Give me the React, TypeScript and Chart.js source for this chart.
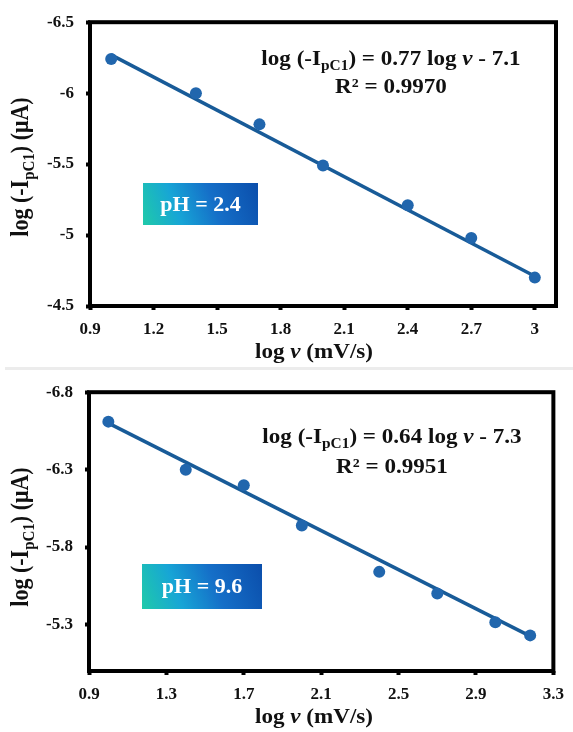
import React, { useEffect, useRef } from 'react';
import { Chart, registerables } from 'chart.js';
Chart.register(...registerables);

// ---------- data ----------
const topLogV = [1.0, 1.4, 1.7, 2.0, 2.4, 2.7, 3.0];
const topLogI = [-6.24, -6.0, -5.78, -5.49, -5.21, -4.98, -4.7];
const topFitLogV = [1.0, 3.0];
const topFitLogI = [-6.27, -4.71];
const topXTicks = [0.9, 1.2, 1.5, 1.8, 2.1, 2.4, 2.7, 3.0];
const topYTicks = [-6.5, -6, -5.5, -5, -4.5];

const botLogV = [1.0, 1.4, 1.7, 2.0, 2.4, 2.7, 3.0, 3.18];
const botLogI = [-6.61, -6.3, -6.2, -5.94, -5.64, -5.5, -5.315, -5.23];
const botFitLogV = [1.0, 3.18];
const botFitLogI = [-6.6, -5.225];
const botXTicks = [0.9, 1.3, 1.7, 2.1, 2.5, 2.9, 3.3];
const botYTicks = [-6.8, -6.3, -5.8, -5.3];

const topSlope = '0.77';
const topIntercept = '7.1';
const topR2 = '0.9970';
const topPH = '2.4';
const botSlope = '0.64';
const botIntercept = '7.3';
const botR2 = '0.9951';
const botPH = '9.6';

// ---------- drawing helpers ----------
const FAMILY = '"Liberation Serif", "Times New Roman", serif';
type Seg = { t: string; sub?: boolean; italic?: boolean };

function segFont(s: Seg, size: number) {
  return `${s.italic ? 'italic ' : ''}bold ${s.sub ? Math.round(size * 0.68) : size}px ${FAMILY}`;
}
function segsWidth(ctx: CanvasRenderingContext2D, segs: Seg[], size: number) {
  let w = 0;
  segs.forEach((s) => {
    ctx.font = segFont(s, size);
    w += ctx.measureText(s.t).width;
  });
  return w;
}
function drawSegs(ctx: CanvasRenderingContext2D, segs: Seg[], size: number, startX: number) {
  let x = startX;
  segs.forEach((s) => {
    ctx.font = segFont(s, size);
    ctx.fillText(s.t, x, s.sub ? size * 0.26 : 0);
    x += ctx.measureText(s.t).width;
  });
}
function drawRich(ctx: CanvasRenderingContext2D, segs: Seg[], cx: number, baseline: number, size: number, color: string, stretch = 1.1) {
  ctx.save();
  ctx.fillStyle = color;
  ctx.textAlign = 'left';
  ctx.textBaseline = 'alphabetic';
  const w = segsWidth(ctx, segs, size);
  ctx.translate(cx, baseline);
  ctx.scale(stretch, 1);
  drawSegs(ctx, segs, size, -w / 2);
  ctx.restore();
}
function drawRotated(ctx: CanvasRenderingContext2D, segs: Seg[], baseX: number, cy: number, size: number, stretch = 1.1) {
  ctx.save();
  ctx.fillStyle = '#111';
  ctx.textAlign = 'left';
  ctx.textBaseline = 'alphabetic';
  const w = segsWidth(ctx, segs, size);
  ctx.translate(baseX, cy);
  ctx.rotate(-Math.PI / 2);
  ctx.scale(1, stretch);
  drawSegs(ctx, segs, size, -w / 2);
  ctx.restore();
}

type Cfg = {
  height: number;
  xs: number[];
  ys: number[];
  fitX: number[];
  fitY: number[];
  xTicks: number[];
  yTicks: number[];
  xMin: number;
  xMax: number;
  yMin: number;
  yMax: number;
  area: { top: number; bottom: number; left: number; right: number };
  slope: string;
  intercept: string;
  r2: string;
  ph: string;
  eqX: number;
  eqY1: number;
  eqY2: number;
  box: { x: number; y: number; w: number; h: number };
  yTitleCy: number;
};

function ChartPanel({ cfg }: { cfg: Cfg }) {
  const ref = useRef<HTMLCanvasElement | null>(null);
  useEffect(() => {
    if (!ref.current) return;
    const c = cfg;
    const overlay = {
      id: 'overlay',
      beforeDatasetsDraw(chart: any) {
        const ctx = chart.ctx as CanvasRenderingContext2D;
        const a = chart.chartArea;
        ctx.save();
        ctx.strokeStyle = '#000';
        ctx.lineWidth = 4;
        ctx.strokeRect(a.left, a.top, a.right - a.left, a.bottom - a.top);
        ctx.restore();
      },
      afterDraw(chart: any) {
        const ctx = chart.ctx as CanvasRenderingContext2D;
        const a = chart.chartArea;
        // equation
        drawRich(
          ctx,
          [
            { t: 'log (-I' },
            { t: 'pC1', sub: true },
            { t: `) = ${c.slope} log ` },
            { t: 'v', italic: true },
            { t: ` - ${c.intercept}` },
          ],
          c.eqX,
          c.eqY1,
          21,
          '#111'
        );
        drawRich(ctx, [{ t: `R\u00B2 = ${c.r2}` }], c.eqX, c.eqY2, 21, '#111');
        // pH box
        const b = c.box;
        const g = ctx.createLinearGradient(b.x, b.y + b.h, b.x + b.w, b.y);
        g.addColorStop(0, '#1fcaa9');
        g.addColorStop(0.3, '#17a5d6');
        g.addColorStop(0.6, '#156fc8');
        g.addColorStop(1, '#0b4eab');
        ctx.save();
        ctx.fillStyle = g;
        ctx.fillRect(b.x, b.y, b.w, b.h);
        ctx.restore();
        drawRich(ctx, [{ t: `pH = ${c.ph}` }], b.x + b.w / 2, b.y + b.h / 2 + 6.5, 20, '#ffffff');
        // x title
        drawRich(
          ctx,
          [{ t: 'log ' }, { t: 'v', italic: true }, { t: ' (mV/s)' }],
          314,
          a.bottom + 52,
          21,
          '#111'
        );
        // y title
        drawRotated(
          ctx,
          [{ t: 'log (-I' }, { t: 'pC1', sub: true }, { t: ') (\u03BCA)' }],
          28,
          c.yTitleCy,
          22
        );
      },
    };
    const chart = new Chart(ref.current, {
      type: 'scatter',
      data: {
        datasets: [
          {
            data: c.xs.map((x, i) => ({ x, y: c.ys[i] })),
            backgroundColor: '#2166ad',
            borderColor: '#2166ad',
            pointRadius: 6,
            pointBorderWidth: 0,
            showLine: false,
          },
          {
            data: c.fitX.map((x, i) => ({ x, y: c.fitY[i] })),
            borderColor: '#185b98',
            backgroundColor: '#185b98',
            borderWidth: 3.5,
            pointRadius: 0,
            showLine: true,
          },
        ],
      },
      options: {
        responsive: false,
        animation: false,
        devicePixelRatio: 1,
        layout: {
          padding: { top: c.area.top, right: 573 - c.area.right, left: 0, bottom: 0 },
        },
        plugins: { legend: { display: false }, tooltip: { enabled: false } },
        scales: {
          x: {
            type: 'linear',
            min: c.xMin,
            max: c.xMax,
            afterBuildTicks: (s: any) => {
              s.ticks = c.xTicks.map((v) => ({ value: v }));
            },
            afterFit: (s: any) => {
              s.height = c.height - c.area.bottom;
            },
            border: { display: false },
            grid: { drawOnChartArea: false, drawTicks: true, tickLength: 4, tickWidth: 4, tickColor: '#000' },
            ticks: {
              padding: 9,
              color: '#111',
              font: { family: FAMILY, size: 17, weight: 'bold' },
              callback: (v: any) => String(Math.round(Number(v) * 10) / 10),
            },
          },
          y: {
            type: 'linear',
            reverse: true,
            min: c.yMin,
            max: c.yMax,
            afterBuildTicks: (s: any) => {
              s.ticks = c.yTicks.map((v) => ({ value: v }));
            },
            afterFit: (s: any) => {
              s.width = c.area.left;
            },
            border: { display: false },
            grid: { drawOnChartArea: false, drawTicks: true, tickLength: 4, tickWidth: 4, tickColor: '#000' },
            ticks: {
              padding: 12,
              color: '#111',
              font: { family: FAMILY, size: 17, weight: 'bold' },
              callback: (v: any) => String(Math.round(Number(v) * 10) / 10),
            },
          },
        },
      },
      plugins: [overlay],
    } as any);
    return () => chart.destroy();
  }, [cfg]);
  return <canvas ref={ref} width={573} height={cfg.height} style={{ display: 'block', width: 573, height: cfg.height }} />;
}

const topCfg: Cfg = {
  height: 367,
  xs: topLogV,
  ys: topLogI,
  fitX: topFitLogV,
  fitY: topFitLogI,
  xTicks: topXTicks,
  yTicks: topYTicks,
  xMin: 0.9,
  xMax: 3.1,
  yMin: -6.5,
  yMax: -4.5,
  area: { top: 21, bottom: 306, left: 90, right: 556 },
  slope: topSlope,
  intercept: topIntercept,
  r2: topR2,
  ph: topPH,
  eqX: 391,
  eqY1: 65,
  eqY2: 93,
  box: { x: 143, y: 183, w: 115, h: 42 },
  yTitleCy: 167,
};

const botCfg: Cfg = {
  height: 362,
  xs: botLogV,
  ys: botLogI,
  fitX: botFitLogV,
  fitY: botFitLogI,
  xTicks: botXTicks,
  yTicks: botYTicks,
  xMin: 0.9,
  xMax: 3.3,
  yMin: -6.8,
  yMax: -5.0,
  area: { top: 18, bottom: 301, left: 89, right: 557 },
  slope: botSlope,
  intercept: botIntercept,
  r2: botR2,
  ph: botPH,
  eqX: 392,
  eqY1: 73,
  eqY2: 103,
  box: { x: 142, y: 194, w: 120, h: 45 },
  yTitleCy: 167,
};

export default function App() {
  useEffect(() => {
    document.body.style.margin = '0';
    document.body.style.background = '#ffffff';
  }, []);
  return (
    <div style={{ position: 'relative', width: 573, height: 732, background: '#fff', overflow: 'hidden' }}>
      <div style={{ position: 'absolute', left: 0, top: 0 }}>
        <ChartPanel cfg={topCfg} />
      </div>
      <div style={{ position: 'absolute', left: 5, top: 367, width: 568, height: 3, background: '#ececec' }} />
      <div style={{ position: 'absolute', left: 0, top: 370 }}>
        <ChartPanel cfg={botCfg} />
      </div>
    </div>
  );
}
